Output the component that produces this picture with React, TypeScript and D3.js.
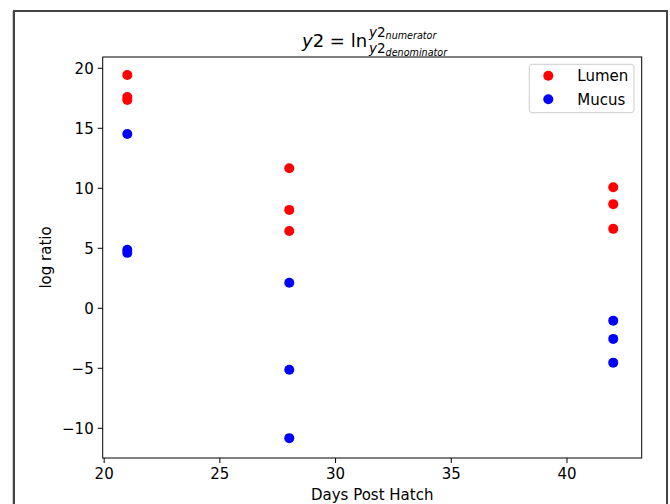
import React from "react";
import * as d3 from "d3";

const days: number[] = [21, 28, 42];
const lumen: number[][] = [
  [19.44, 17.6, 17.35],
  [11.67, 8.2, 6.44],
  [10.08, 8.68, 6.62],
];
const mucus: number[][] = [
  [14.52, 4.88, 4.62],
  [2.13, -5.12, -10.82],
  [-1.03, -2.55, -4.53],
];
const xTicks: number[] = [20, 25, 30, 35, 40];
const yTicks: number[] = [-10, -5, 0, 5, 10, 15, 20];
const seriesNames: string[] = ["Lumen", "Mucus"];
const seriesColors: string[] = ["#ff0000", "#0000ff"];

const W = 670;
const H = 504;
const left = 102.7;
const right = 641.7;
const top = 57;
const bottom = 458;
const font = "DejaVu Sans, sans-serif";
const fs = 15;

export default function App() {
  const x = d3.scaleLinear().domain([19.937, 43.23]).range([left, right]);
  const y = d3.scaleLinear().domain([-12.475, 20.94]).range([bottom, top]);

  const fmt = (v: number) => (v < 0 ? "\u2212" + Math.abs(v) : String(v));

  const points: { x: number; y: number; c: string }[] = [];
  [lumen, mucus].forEach((s, si) => {
    s.forEach((vals, di) => {
      vals.forEach((v) => points.push({ x: days[di], y: v, c: seriesColors[si] }));
    });
  });

  return (
    <div style={{ position: "absolute", left: 0, top: 0 }}>
      <svg width={W} height={H} style={{ display: "block", background: "#fff" }}>
        <rect x={14} y={11} width={653} height={600} fill="none" stroke="#444" strokeWidth={2} />
        <line x1={12.5} y1={11} x2={12.5} y2={504} stroke="#ccc" strokeWidth={1} />
        {/* title */}
        <g fontFamily={font} fill="#000">
          <text x={302} y={47} fontSize={18}>
            <tspan fontStyle="italic">y</tspan>
            <tspan>2 = ln</tspan>
          </text>
          <text x={369} y={36.5} fontSize={13.5}>
            <tspan fontStyle="italic">y</tspan>
            <tspan>2</tspan>
            <tspan fontSize={9.6} fontStyle="italic" dy={2.5}>numerator</tspan>
          </text>
          <text x={369} y={53} fontSize={13.5}>
            <tspan fontStyle="italic">y</tspan>
            <tspan>2</tspan>
            <tspan fontSize={9.6} fontStyle="italic" dy={2.5}>denominator</tspan>
          </text>
        </g>
        {/* axes frame */}
        <rect x={left} y={top} width={right - left} height={bottom - top} fill="none" stroke="#000" strokeWidth={1} />
        {/* x ticks */}
        {xTicks.map((t) => (
          <g key={"x" + t}>
            <line x1={x(t)} x2={x(t)} y1={bottom} y2={bottom + 5} stroke="#000" strokeWidth={1} />
            <text x={x(t)} y={bottom + 21} fontSize={fs} fontFamily={font} textAnchor="middle" fill="#000">
              {fmt(t)}
            </text>
          </g>
        ))}
        {/* y ticks */}
        {yTicks.map((t) => (
          <g key={"y" + t}>
            <line x1={left - 5} x2={left} y1={y(t)} y2={y(t)} stroke="#000" strokeWidth={1} />
            <text x={left - 9} y={y(t)} dy="0.36em" fontSize={fs} fontFamily={font} textAnchor="end" fill="#000">
              {fmt(t)}
            </text>
          </g>
        ))}
        <text x={(left + right) / 2} y={500} fontSize={fs} fontFamily={font} textAnchor="middle" fill="#000">
          Days Post Hatch
        </text>
        <text
          transform={`translate(51,${(top + bottom) / 2}) rotate(-90)`}
          fontSize={fs}
          fontFamily={font}
          textAnchor="middle"
          fill="#000"
        >
          log ratio
        </text>
        {/* points */}
        {points.map((p, i) => (
          <circle key={i} cx={x(p.x)} cy={y(p.y)} r={5} fill={p.c} />
        ))}
        {/* legend */}
        <rect x={529.3} y={64.3} width={104.7} height={48.4} rx={3} fill="#fff" fillOpacity={0.8} stroke="#ccc" strokeWidth={1} />
        {seriesNames.map((n, i) => (
          <g key={n}>
            <circle cx={548.3} cy={75.7 + i * 23.5} r={5} fill={seriesColors[i]} />
            <text x={577.3} y={75.7 + i * 23.5} dy="0.36em" fontSize={fs} fontFamily={font} fill="#000">
              {n}
            </text>
          </g>
        ))}
      </svg>
    </div>
  );
}
